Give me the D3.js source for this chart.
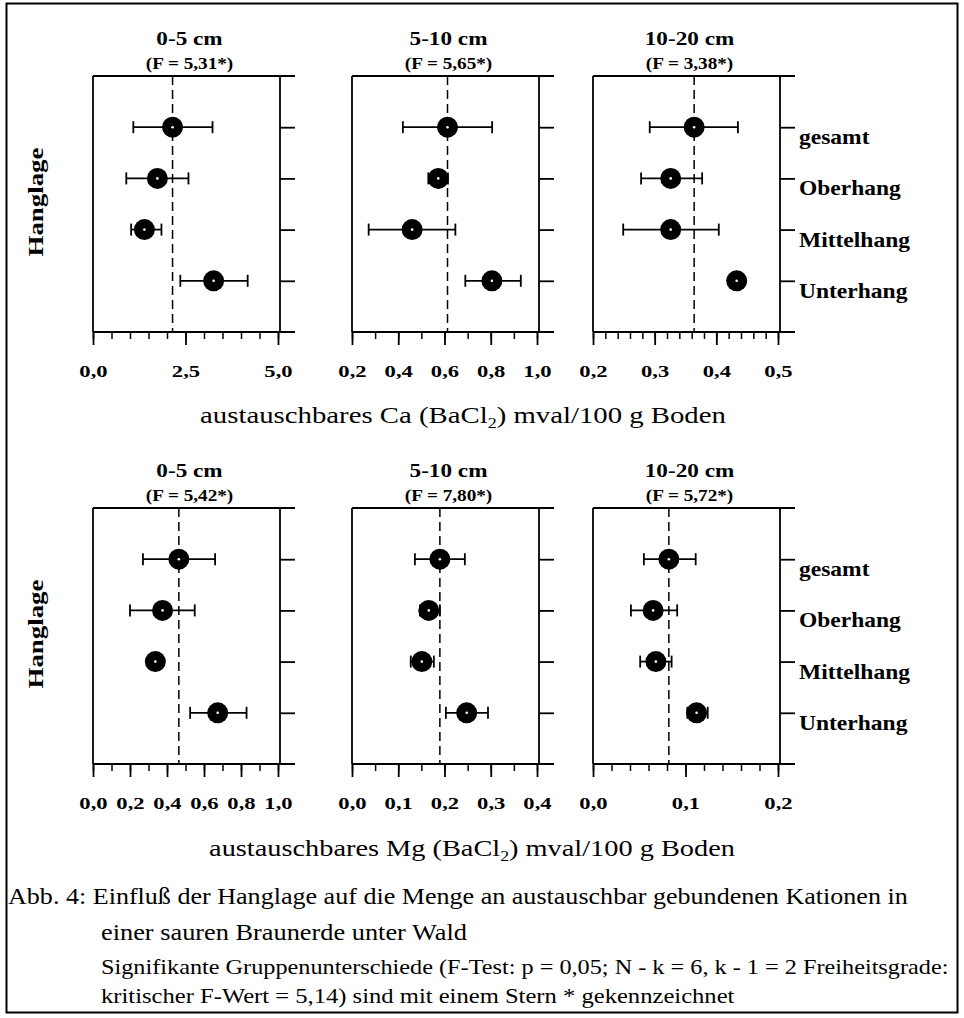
<!DOCTYPE html>
<html><head><meta charset="utf-8">
<script src="https://cdn.jsdelivr.net/npm/d3@7"></script>
<style>
html,body{margin:0;padding:0;background:#fff;}
svg{display:block;font-family:"Liberation Serif","Times New Roman",serif;}
</style></head><body>
<svg id="chart" width="964" height="1018"></svg>
<script>
// Slope positions (rows of every panel)
const categories = ["gesamt", "Oberhang", "Mittelhang", "Unterhang"];
const depths = ["0-5 cm", "5-10 cm", "10-20 cm"];

// Exchangeable Ca (BaCl2), mval/100 g soil: mean and range per slope position
const caFTests = ["(F = 5,31*)", "(F = 5,65*)", "(F = 3,38*)"];
const caMean_0_5 = [2.15, 1.74, 1.39, 3.26];
const caLow_0_5 = [1.09, 0.90, 1.03, 2.36];
const caHigh_0_5 = [3.23, 2.58, 1.85, 4.18];
const caMean_5_10 = [0.613, 0.573, 0.46, 0.805];
const caLow_5_10 = [0.42, 0.53, 0.272, 0.69];
const caHigh_5_10 = [0.806, 0.615, 0.647, 0.93];
const caMean_10_20 = [0.364, 0.326, 0.326, 0.433];
const caLow_10_20 = [0.292, 0.278, 0.249, 0.428];
const caHigh_10_20 = [0.435, 0.377, 0.404, 0.438];
const caDomains = [[0, 5], [0.2, 1.0], [0.2, 0.5]];
const caTicks = [[0, 2.5, 5], [0.2, 0.4, 0.6, 0.8, 1.0], [0.2, 0.3, 0.4, 0.5]];
const caMinorSteps = [0.5, 0.1, 0.02];

// Exchangeable Mg (BaCl2), mval/100 g soil
const mgFTests = ["(F = 5,42*)", "(F = 7,80*)", "(F = 5,72*)"];
const mgMean_0_5 = [0.464, 0.376, 0.337, 0.674];
const mgLow_0_5 = [0.27, 0.20, 0.332, 0.525];
const mgHigh_0_5 = [0.66, 0.55, 0.342, 0.83];
const mgMean_5_10 = [0.19, 0.166, 0.151, 0.248];
const mgLow_5_10 = [0.136, 0.147, 0.127, 0.203];
const mgHigh_5_10 = [0.244, 0.19, 0.177, 0.294];
const mgMean_10_20 = [0.082, 0.065, 0.068, 0.112];
const mgLow_10_20 = [0.055, 0.041, 0.051, 0.102];
const mgHigh_10_20 = [0.111, 0.091, 0.085, 0.124];
const mgDomains = [[0, 1], [0, 0.4], [0, 0.2]];
const mgTicks = [[0, 0.2, 0.4, 0.6, 0.8, 1.0], [0, 0.1, 0.2, 0.3, 0.4], [0, 0.1, 0.2]];
const mgMinorSteps = [0.1, 0.05, 0.02];

const captionLines = [
  "Abb. 4: Einfluß der Hanglage auf die Menge an austauschbar gebundenen Kationen in",
  "einer sauren Braunerde unter Wald",
  "Signifikante Gruppenunterschiede (F-Test: p = 0,05; N - k = 6, k - 1 = 2 Freiheitsgrade:",
  "kritischer F-Wert = 5,14) sind mit einem Stern * gekennzeichnet"
];

// ---- layout ----
const panelLefts = [93, 352, 593];
const panelWidth = 187;
const plotHeight = 256;
const lineExtend = 15;
const rows = [
  { top: 76, element: "Ca", fTests: caFTests, domains: caDomains, ticks: caTicks, minor: caMinorSteps,
    series: [[caMean_0_5, caLow_0_5, caHigh_0_5], [caMean_5_10, caLow_5_10, caHigh_5_10], [caMean_10_20, caLow_10_20, caHigh_10_20]],
    titleY: 423, titleX: 463, titleW: 526 },
  { top: 508, element: "Mg", fTests: mgFTests, domains: mgDomains, ticks: mgTicks, minor: mgMinorSteps,
    series: [[mgMean_0_5, mgLow_0_5, mgHigh_0_5], [mgMean_5_10, mgLow_5_10, mgHigh_5_10], [mgMean_10_20, mgLow_10_20, mgHigh_10_20]],
    titleY: 856, titleX: 472, titleW: 526 }
];

const svg = d3.select("#chart");
const comma = d => d3.format(".1f")(d).replace(".", ",");

// text helper: serif lettering, widened horizontally by sx
function label(parent, x, y, txt, opts = {}) {
  const sx = opts.sx || 1;
  const rot = opts.rotate ? ` rotate(${opts.rotate})` : "";
  return parent.append("text")
    .attr("transform", `translate(${x},${y})${rot} scale(${sx},1)`)
    .attr("text-anchor", opts.anchor || "middle")
    .attr("font-size", opts.size || 16)
    .attr("font-weight", opts.bold ? "bold" : "normal")
    .attr("fill", "#000")
    .text(txt);
}

// stretch a text element so that it spans a given width
function fitWidth(sel, x, y, width) {
  const natural = sel.node().getComputedTextLength();
  sel.attr("transform", `translate(${x},${y}) scale(${width / natural},1)`);
  return sel;
}

// outer frame
svg.append("rect").attr("x", 6.5).attr("y", 3.5).attr("width", 951).attr("height", 1009)
  .attr("fill", "none").attr("stroke", "#000").attr("stroke-width", 2);

rows.forEach(row => {
  const top = row.top, bottom = top + plotHeight;
  const y = d3.scalePoint().domain(categories).range([top, bottom]).padding(1);

  // y-axis title
  label(svg, 43, (top + bottom) / 2 - 2, "Hanglage", { size: 21, bold: true, rotate: -90, sx: 1.28 });

  panelLefts.forEach((left, i) => {
    const right = left + panelWidth;
    const [mean, low, high] = row.series[i];
    const x = d3.scaleLinear().domain(row.domains[i]).range([left, right - 2]);
    const g = svg.append("g");

    // headings
    const cx = (left + right) / 2 + 3;
    label(g, cx, top - 31, depths[i], { size: 19, bold: true, sx: 1.22 });
    label(g, cx, top - 7, row.fTests[i], { size: 16, bold: true, sx: 1.2 });

    // frame lines
    const frame = g.append("g").attr("stroke", "#000").attr("stroke-width", 1.8).attr("fill", "none");
    frame.append("line").attr("x1", left).attr("x2", right + lineExtend).attr("y1", top).attr("y2", top);
    frame.append("line").attr("x1", left).attr("x2", right + lineExtend).attr("y1", bottom).attr("y2", bottom);
    frame.append("line").attr("x1", left).attr("x2", left).attr("y1", top).attr("y2", bottom);
    frame.append("line").attr("x1", right).attr("x2", right).attr("y1", top).attr("y2", bottom);

    // x axis: minor then major ticks
    const [d0, d1] = row.domains[i];
    const step = row.minor[i];
    const minor = d3.range(0, Math.round((d1 - d0) / step) + 1).map(k => d0 + k * step);
    const minorAxis = g.append("g").attr("transform", `translate(0,${bottom})`)
      .call(d3.axisBottom(x).tickValues(minor).tickSize(7).tickSizeOuter(0).tickFormat(""));
    minorAxis.select(".domain").remove();
    minorAxis.selectAll("line").attr("stroke-width", 1.5);

    const majorAxis = g.append("g").attr("transform", `translate(0,${bottom})`)
      .call(d3.axisBottom(x).tickValues(row.ticks[i]).tickSize(13).tickSizeOuter(0)
        .tickPadding(20).tickFormat(comma));
    majorAxis.select(".domain").remove();
    majorAxis.selectAll("line").attr("stroke-width", 1.8);
    majorAxis.selectAll("text")
      .attr("font-family", "Liberation Serif, Times New Roman, serif")
      .attr("font-size", 17).attr("font-weight", "bold").attr("fill", "#000")
      .attr("transform", "scale(1.33,1)");

    // right-hand y axis with outward ticks
    const yAxis = g.append("g").attr("transform", `translate(${right},0)`)
      .call(d3.axisRight(y).tickSize(lineExtend).tickSizeOuter(0).tickFormat(""));
    yAxis.select(".domain").remove();
    yAxis.selectAll("line").attr("stroke-width", 1.8);

    // category names beside the last panel
    if (i === panelLefts.length - 1) {
      categories.forEach(c => label(g, right + lineExtend + 4, y(c) + 17, c,
        { size: 21, bold: true, anchor: "start", sx: 1.12 }));
    }

    // overall mean reference line
    g.append("line")
      .attr("x1", x(mean[0])).attr("x2", x(mean[0]))
      .attr("y1", top).attr("y2", bottom)
      .attr("stroke", "#000").attr("stroke-width", 1.5).attr("stroke-dasharray", "9,5");

    // ranges and means
    const pts = categories.map((c, k) => ({ c, m: mean[k], lo: low[k], hi: high[k] }));
    const eb = g.append("g").attr("stroke", "#000").attr("stroke-width", 1.8);
    eb.selectAll(".bar").data(pts).join("line")
      .attr("x1", d => x(d.lo)).attr("x2", d => x(d.hi))
      .attr("y1", d => y(d.c)).attr("y2", d => y(d.c));
    eb.selectAll(".capL").data(pts).join("line")
      .attr("x1", d => x(d.lo)).attr("x2", d => x(d.lo))
      .attr("y1", d => y(d.c) - 6).attr("y2", d => y(d.c) + 6);
    eb.selectAll(".capR").data(pts).join("line")
      .attr("x1", d => x(d.hi)).attr("x2", d => x(d.hi))
      .attr("y1", d => y(d.c) - 6).attr("y2", d => y(d.c) + 6);
    g.selectAll(".dot").data(pts).join("circle")
      .attr("cx", d => x(d.m)).attr("cy", d => y(d.c)).attr("r", 10.5).attr("fill", "#000");
    g.selectAll(".centre").data(pts).join("circle")
      .attr("cx", d => x(d.m)).attr("cy", d => y(d.c)).attr("r", 1.3).attr("fill", "#fff");
  });

  // x-axis title with subscript
  const t = svg.append("text")
    .attr("text-anchor", "middle").attr("font-size", 24).attr("fill", "#000");
  t.append("tspan").text(`austauschbares ${row.element} (BaCl`);
  t.append("tspan").attr("font-size", 15).attr("dy", 5).text("2");
  t.append("tspan").attr("dy", -5).text(") mval/100 g Boden");
  fitWidth(t, row.titleX, row.titleY, row.titleW);
});

// caption
const cap = svg.append("g");
const captionLayout = [
  { x: 8, y: 904, size: 23, w: 900 },
  { x: 101, y: 940, size: 23, w: 366 },
  { x: 101, y: 974, size: 20, w: 848 },
  { x: 101, y: 1003, size: 20, w: 634 }
];
captionLines.forEach((line, k) => {
  const L = captionLayout[k];
  const t = label(cap, L.x, L.y, line, { size: L.size, anchor: "start" });
  fitWidth(t, L.x, L.y, L.w);
});
</script>
</body></html>
